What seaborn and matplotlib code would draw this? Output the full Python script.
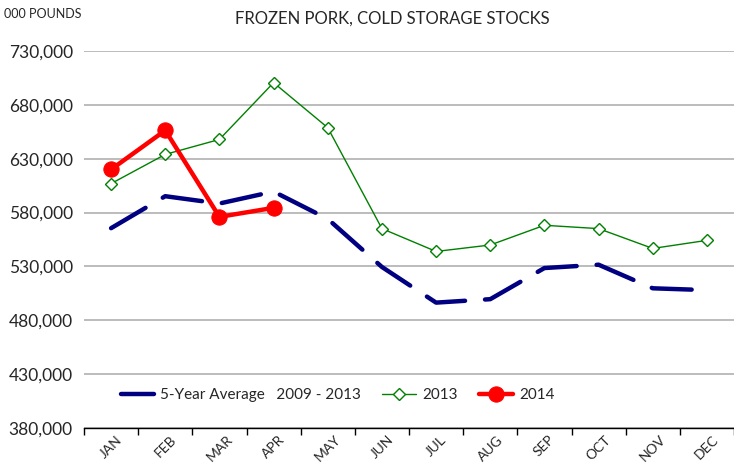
import numpy as np
import pandas as pd
import seaborn as sns
import matplotlib.pyplot as plt

months = ["JAN", "FEB", "MAR", "APR", "MAY", "JUN",
          "JUL", "AUG", "SEP", "OCT", "NOV", "DEC"]
avg_5yr = [565500, 595200, 588400, 599500, 574100, 529500,
           496400, 499600, 528500, 531600, 509700, 508000]
y2013 = [606900, 634000, 647900, 700600, 658800, 565100,
         543900, 549900, 568200, 565100, 546700, 554200]
y2014 = [620000, 656300, 576000, 584400]

sns.set_theme(style="white")
plt.rcParams["font.family"] = ["Lato", "DejaVu Sans"]

fig = plt.figure(figsize=(7.34, 4.70), dpi=100)
ax = fig.add_axes([84 / 734, 1 - 428 / 470, 650 / 734, (428 - 51) / 470])

pos = np.arange(len(months))
sns.lineplot(x=pos, y=avg_5yr, ax=ax, color="#000080", linewidth=3.2,
             dashes=False, label="5-Year Average   2009 - 2013")
ax.lines[-1].set_dashes([9, 4.5])
ax.lines[-1].set_dash_capstyle("round")
sns.lineplot(x=pos, y=y2013, ax=ax, color="#008000", linewidth=1,
             marker="D", markersize=6.5, markerfacecolor="white",
             markeredgecolor="#008000", markeredgewidth=1, label="2013")
sns.lineplot(x=pos[:len(y2014)], y=y2014, ax=ax, color="#ff0000",
             linewidth=3.2, marker="o", markersize=11,
             markeredgecolor="#ff0000", label="2014")

ax.set_xlim(-0.5, 11.5)
ax.set_ylim(380000, 730000)
ax.set_yticks(np.arange(380000, 730001, 50000))
ax.set_yticklabels([f"{v:,}" for v in range(380000, 730001, 50000)], fontsize=12.5)
ax.yaxis.grid(True, color="#b0b0b0", linewidth=1.2)
ax.set_axisbelow(True)

ax.set_xticks(pos)
ax.set_xticklabels(months, rotation=45, fontsize=10, ha="center")
ax.set_xticks(np.arange(-0.5, 12, 1), minor=True)
ax.tick_params(axis="x", which="major", length=0, pad=4)
ax.tick_params(axis="x", which="minor", bottom=True, length=5, width=1, color="black")
ax.tick_params(axis="y", length=0, pad=8)

for s in ["top", "right", "left"]:
    ax.spines[s].set_visible(False)
ax.spines["bottom"].set_color("black")
ax.spines["bottom"].set_linewidth(1)

ax.legend(loc="center left", bbox_to_anchor=(0.035, 0.087), ncol=3,
          frameon=False, fontsize=11, handlelength=2.2, columnspacing=1.4,
          handletextpad=0.4)

fig.text(4 / 734, 1 - 14 / 470, "000 POUNDS", fontsize=9, va="center")
fig.text(0.535, 1 - 19 / 470, "FROZEN PORK, COLD STORAGE STOCKS",
         fontsize=12, ha="center", va="center")

fig.savefig("out.png", dpi=100)
